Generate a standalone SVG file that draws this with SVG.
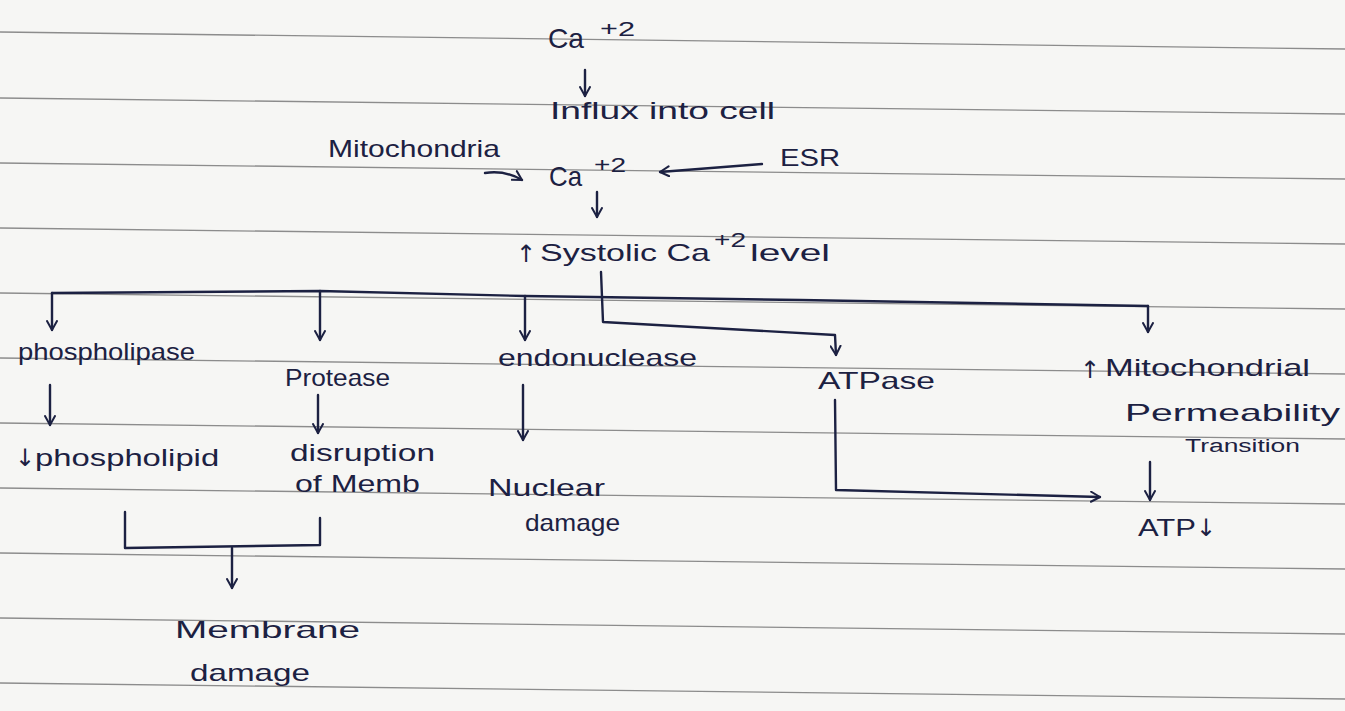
<svg xmlns="http://www.w3.org/2000/svg" width="1345" height="711" viewBox="0 0 1345 711">
<style>
.ink{fill:#1c2142;font-family:"Liberation Sans","DejaVu Sans",sans-serif;font-size:24px}
.sm{font-size:18px}
.sup{font-size:20px}
.big{font-size:28px}
.arr{font-family:"DejaVu Sans",sans-serif;font-size:24px}
.rule{stroke:#8c8c8c;stroke-width:1.3;fill:none}
.c{stroke:#1c2142;stroke-width:2.4;fill:none;stroke-linecap:round;stroke-linejoin:round}
</style>
<defs>
<marker id="ah" viewBox="0 0 12 12" refX="10" refY="6" markerWidth="12" markerHeight="12" markerUnits="userSpaceOnUse" orient="auto">
<path d="M1,1 L10,6 L1,11" fill="none" stroke="#1c2142" stroke-width="2" stroke-linecap="round" stroke-linejoin="round"/>
</marker>
</defs>
<rect width="1345" height="711" fill="#f6f6f4"/>
<g id="paper-rules">
<path class="rule" d="M0,32 L1345,49"/>
<path class="rule" d="M0,98 L1345,114"/>
<path class="rule" d="M0,163 L1345,179"/>
<path class="rule" d="M0,228 L1345,244"/>
<path class="rule" d="M0,293 L1345,309"/>
<path class="rule" d="M0,358 L1345,374"/>
<path class="rule" d="M0,423 L1345,439"/>
<path class="rule" d="M0,488 L1345,504"/>
<path class="rule" d="M0,553 L1345,569"/>
<path class="rule" d="M0,618 L1345,634"/>
<path class="rule" d="M0,683 L1345,699"/>
</g>
<g id="connectors">
<path class="c" d="M585,70 L585,96" marker-end="url(#ah)"/>
<path class="c" d="M485,173 Q505,170 522,180" marker-end="url(#ah)"/>
<path class="c" d="M762,164 L660,172" marker-end="url(#ah)"/>
<path class="c" d="M597,192 L597,217" marker-end="url(#ah)"/>
<path class="c" d="M52,293 L320,291 L525,296 L800,300 L1148,306"/>
<path class="c" d="M52,293 L52,330" marker-end="url(#ah)"/>
<path class="c" d="M320,291 L320,340" marker-end="url(#ah)"/>
<path class="c" d="M525,296 L525,340" marker-end="url(#ah)"/>
<path class="c" d="M1148,306 L1148,332" marker-end="url(#ah)"/>
<path class="c" d="M601,272 L603,322 L835,335 L836,355" marker-end="url(#ah)"/>
<path class="c" d="M50,385 L50,425" marker-end="url(#ah)"/>
<path class="c" d="M318,395 L318,433" marker-end="url(#ah)"/>
<path class="c" d="M523,385 L523,440" marker-end="url(#ah)"/>
<path class="c" d="M125,512 L125,548 L320,545 L320,518"/>
<path class="c" d="M232,548 L232,588" marker-end="url(#ah)"/>
<path class="c" d="M835,400 L836,490 L1100,497" marker-end="url(#ah)"/>
<path class="c" d="M1150,462 L1150,500" marker-end="url(#ah)"/>
</g>
<g id="ca-top"><text class="ink big" x="548" y="48" textLength="36" lengthAdjust="spacingAndGlyphs">Ca</text><text class="ink sup" x="600" y="36" textLength="35" lengthAdjust="spacingAndGlyphs">+2</text></g>
<g id="influx"><text class="ink" x="550" y="119" textLength="225" lengthAdjust="spacingAndGlyphs">Influx into cell</text></g>
<g id="mitochondria"><text class="ink" x="328" y="157" textLength="172" lengthAdjust="spacingAndGlyphs">Mitochondria</text></g>
<g id="esr"><text class="ink" x="780" y="166" textLength="60" lengthAdjust="spacingAndGlyphs">ESR</text></g>
<g id="ca-mid"><text class="ink big" x="549" y="186" textLength="33" lengthAdjust="spacingAndGlyphs">Ca</text><text class="ink sup" x="594" y="172" textLength="32" lengthAdjust="spacingAndGlyphs">+2</text></g>
<g id="systolic"><text class="ink arr" x="516" y="262">↑</text><text class="ink" x="540" y="261" textLength="170" lengthAdjust="spacingAndGlyphs">Systolic Ca</text><text class="ink sup" x="714" y="247" textLength="32" lengthAdjust="spacingAndGlyphs">+2</text><text class="ink" x="750" y="261" textLength="80" lengthAdjust="spacingAndGlyphs">level</text></g>
<g id="phospholipase"><text class="ink" x="18" y="360" textLength="177" lengthAdjust="spacingAndGlyphs">phospholipase</text></g>
<g id="protease"><text class="ink" x="285" y="386" textLength="105" lengthAdjust="spacingAndGlyphs">Protease</text></g>
<g id="endonuclease"><text class="ink" x="498" y="366" textLength="199" lengthAdjust="spacingAndGlyphs">endonuclease</text></g>
<g id="atpase"><text class="ink" x="818" y="389" textLength="117" lengthAdjust="spacingAndGlyphs">ATPase</text></g>
<g id="mpt"><text class="ink arr" x="1080" y="378">↑</text><text class="ink" x="1105" y="376" textLength="205" lengthAdjust="spacingAndGlyphs">Mitochondrial</text><text class="ink" x="1125" y="421" textLength="215" lengthAdjust="spacingAndGlyphs">Permeability</text><text class="ink sm" x="1185" y="452" textLength="115" lengthAdjust="spacingAndGlyphs">Transition</text></g>
<g id="phospholipid"><text class="ink" x="15" y="466"><tspan class="arr">↓</tspan><tspan textLength="184" lengthAdjust="spacingAndGlyphs">phospholipid</tspan></text></g>
<g id="disruption"><text class="ink" x="290" y="461" textLength="145" lengthAdjust="spacingAndGlyphs">disruption</text><text class="ink" x="295" y="492" textLength="125" lengthAdjust="spacingAndGlyphs">of Memb</text></g>
<g id="nuclear"><text class="ink" x="488" y="496" textLength="117" lengthAdjust="spacingAndGlyphs">Nuclear</text><text class="ink" x="525" y="531" textLength="95" lengthAdjust="spacingAndGlyphs">damage</text></g>
<g id="atp"><text class="ink" x="1138" y="536"><tspan textLength="58" lengthAdjust="spacingAndGlyphs">ATP</tspan><tspan class="arr">↓</tspan></text></g>
<g id="membrane"><text class="ink" x="175" y="638" textLength="185" lengthAdjust="spacingAndGlyphs">Membrane</text><text class="ink" x="190" y="681" textLength="120" lengthAdjust="spacingAndGlyphs">damage</text></g>
</svg>
